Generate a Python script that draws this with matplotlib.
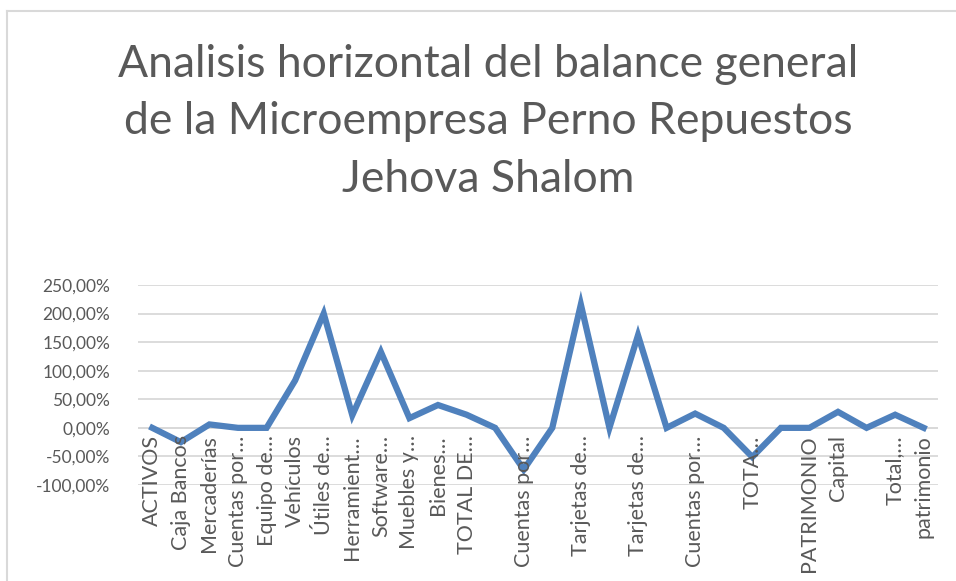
import numpy as np
import matplotlib
matplotlib.use('Agg')
import matplotlib.pyplot as plt
from matplotlib.lines import Line2D
from matplotlib.ticker import FuncFormatter

plt.rcParams['font.family'] = ['Lato', 'DejaVu Sans']

# --- Data ---
categories = [
    "ACTIVOS", "Caja Bancos", "Mercaderías", "Cuentas por…", "Equipo de…",
    "Vehículos", "Útiles de…", "Herramient…", "Software…", "Muebles y…",
    "Bienes…", "TOTAL DE…", "", "Cuentas por…", "", "Tarjetas de…", "",
    "Tarjetas de…", "", "Cuentas por…", "", "TOTA…", "", "PATRIMONIO",
    "Capital", "", "Total,…", "patrimonio",
]
variacion = [
    0, -25, 6, 0, 0, 83, 200, 22, 133, 17, 40, 23, 0, -73, 0, 216, 0,
    162, 0, 25, 0, -51, 0, 0, 28, 0, 23, 0,
]
y_ticks = [-100, -50, 0, 50, 100, 150, 200, 250]

title = ("Analisis horizontal del balance general\n"
         "de la Microempresa Perno Repuestos\n"
         "Jehova Shalom")

W, H = 956, 581
fig = plt.figure(figsize=(W / 100, H / 100), dpi=100)
ax = fig.add_axes([138 / W, 1 - 485 / H, (938 - 138) / W, (485 - 285) / H])

x = np.arange(len(categories))
ax.plot(x, variacion, color='#4f81bd', linewidth=4.5, solid_joinstyle='miter',
        zorder=3)

ax.set_xlim(-0.5, len(categories) - 0.5)
ax.set_ylim(-100, 250)
ax.set_yticks(y_ticks)
ax.yaxis.set_major_formatter(FuncFormatter(lambda v, p: f"{v:.2f}%".replace('.', ',')))
ax.grid(axis='y', color='#d9d9d9', linewidth=1.3)
ax.axhline(0, color='#d9d9d9', linewidth=1.3, zorder=1)
for s in ax.spines.values():
    s.set_visible(False)
ax.tick_params(axis='both', length=0, labelsize=12.5, labelcolor='#595959')
ax.tick_params(axis='y', pad=20)

# category labels sit just below the 0 line, as in the Excel chart
ax.set_xticks(x)
ax.set_xticklabels([])
for xi, name in zip(x, categories):
    ax.text(xi, -13, name, rotation=90, ha='center', va='top',
            fontsize=15.5, color='#595959')

fig.text(488 / W, 1 - 122 / H, title, ha='center', va='center', fontsize=32,
         color='#595959', linespacing=1.5)

# chart frame (top and left edges visible)
fig.add_artist(Line2D([7 / W, 7 / W], [0, 1 - 11 / H], color='#d9d9d9',
                      linewidth=1.5, transform=fig.transFigure))
fig.add_artist(Line2D([7 / W, 1], [1 - 11 / H, 1 - 11 / H], color='#d9d9d9',
                      linewidth=1.5, transform=fig.transFigure))

fig.savefig('out.png', dpi=100)
